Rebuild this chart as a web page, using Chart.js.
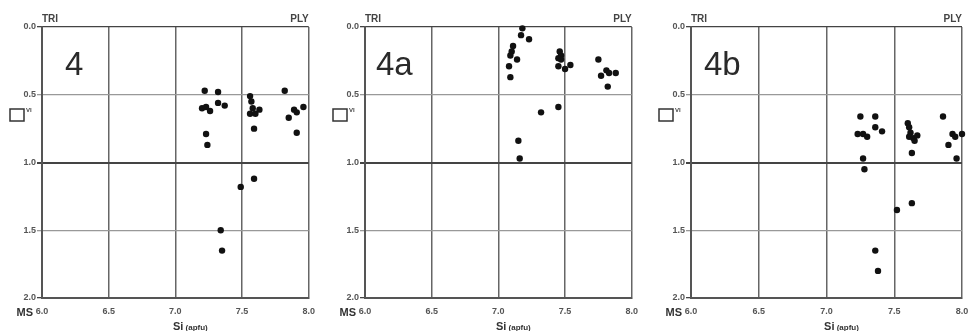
<!DOCTYPE html>
<html>
<head>
<meta charset="utf-8">
<script src="https://cdn.jsdelivr.net/npm/chart.js@4"></script>
<style>
  body { margin: 0; background: #fff; width: 969px; height: 331px; overflow: hidden; position: relative; }
  .panel { position: absolute; top: 0; }
</style>
</head>
<body>
<div class="panel" style="left:0px"><canvas id="c4" width="323" height="331"></canvas></div>
<div class="panel" style="left:323px"><canvas id="c4a" width="323" height="331"></canvas></div>
<div class="panel" style="left:648px"><canvas id="c4b" width="330" height="331"></canvas></div>
<script>
// Si (apfu) vs vacancy in octahedral site
const panelLabels = ['4', '4a', '4b'];
const xTicks = [6.0, 6.5, 7.0, 7.5, 8.0];
const yTicks = [0.0, 0.5, 1.0, 1.5, 2.0];

const si4  = [7.22, 7.32, 7.20, 7.23, 7.26, 7.32, 7.37, 7.23, 7.24, 7.56, 7.57, 7.58, 7.56, 7.60, 7.63, 7.59, 7.82, 7.85, 7.89, 7.91, 7.96, 7.91, 7.59, 7.49, 7.34, 7.35];
const vac4 = [0.47, 0.48, 0.60, 0.59, 0.62, 0.56, 0.58, 0.79, 0.87, 0.51, 0.55, 0.60, 0.64, 0.64, 0.61, 0.75, 0.47, 0.67, 0.61, 0.63, 0.59, 0.78, 1.12, 1.18, 1.50, 1.65];

const si4a  = [7.18, 7.17, 7.23, 7.11, 7.10, 7.09, 7.08, 7.14, 7.09, 7.46, 7.47, 7.45, 7.47, 7.45, 7.50, 7.54, 7.75, 7.77, 7.81, 7.83, 7.88, 7.82, 7.32, 7.45, 7.15, 7.16];
const vac4a = [0.01, 0.06, 0.09, 0.14, 0.18, 0.21, 0.29, 0.24, 0.37, 0.18, 0.21, 0.23, 0.24, 0.29, 0.31, 0.28, 0.24, 0.36, 0.32, 0.34, 0.34, 0.44, 0.63, 0.59, 0.84, 0.97];

const si4b  = [7.25, 7.36, 7.36, 7.41, 7.23, 7.27, 7.30, 7.27, 7.28, 7.60, 7.61, 7.62, 7.61, 7.64, 7.65, 7.67, 7.63, 7.86, 7.90, 7.93, 7.95, 8.00, 7.96, 7.63, 7.52, 7.36, 7.38];
const vac4b = [0.66, 0.66, 0.74, 0.77, 0.79, 0.79, 0.81, 0.97, 1.05, 0.71, 0.74, 0.78, 0.81, 0.82, 0.84, 0.80, 0.93, 0.66, 0.87, 0.79, 0.81, 0.79, 0.97, 1.30, 1.35, 1.65, 1.80];

const FONT = "'Liberation Sans', Arial, sans-serif";

// extra labels drawn around the plot area
const decorations = {
  id: 'decorations',
  afterDraw(chart, args, opts) {
    const ctx = chart.ctx;
    const a = chart.chartArea;
    ctx.save();
    ctx.fillStyle = '#444';
    ctx.font = 'bold 10px ' + FONT;
    ctx.textBaseline = 'alphabetic';
    ctx.textAlign = 'left';
    ctx.fillText('TRI', a.left, 22);
    ctx.textAlign = 'right';
    ctx.fillText('PLY', a.right, 22);

    // big panel label
    ctx.fillStyle = '#2a2a2a';
    ctx.font = '33px ' + FONT;
    ctx.textAlign = 'left';
    ctx.fillText(opts.label, a.left + opts.labelDx, 75);

    // vacancy symbol
    ctx.strokeStyle = '#333';
    ctx.lineWidth = 1.5;
    ctx.strokeRect(a.left - 32, 109, 14, 12);
    ctx.fillStyle = '#444';
    ctx.font = 'bold 6px ' + FONT;
    ctx.fillText('VI', a.left - 16, 112);

    // MS and x axis title
    ctx.fillStyle = '#333';
    ctx.font = 'bold 11px ' + FONT;
    ctx.textAlign = 'right';
    ctx.fillText('MS', a.left - 9, 316);
    const cx = (a.left + a.right) / 2 + 15;
    ctx.textAlign = 'left';
    ctx.font = 'bold 11px ' + FONT;
    const w1 = ctx.measureText('Si').width;
    ctx.font = 'bold 8px ' + FONT;
    const w2 = ctx.measureText(' (apfu)').width;
    let x0 = cx - (w1 + w2) / 2;
    ctx.font = 'bold 11px ' + FONT;
    ctx.fillText('Si', x0, 330);
    ctx.font = 'bold 8px ' + FONT;
    ctx.fillText(' (apfu)', x0 + w1, 330);
    ctx.restore();
  }
};

function makePanel(id, label, labelDx, si, vac, axisWidth, padRight) {
  const points = si.map((x, i) => ({ x: x, y: vac[i] }));
  new Chart(document.getElementById(id), {
    type: 'scatter',
    data: {
      datasets: [{
        data: points,
        pointRadius: 3.2,
        pointHoverRadius: 3.2,
        pointBackgroundColor: '#111',
        pointBorderWidth: 0,
        clip: false
      }]
    },
    options: {
      responsive: false,
      animation: false,
      devicePixelRatio: 1,
      layout: { padding: { top: 27, right: padRight, left: 0, bottom: 0 } },
      plugins: {
        legend: { display: false },
        tooltip: { enabled: false },
        decorations: { label: label, labelDx: labelDx }
      },
      scales: {
        x: {
          type: 'linear',
          min: xTicks[0],
          max: xTicks[xTicks.length - 1],
          afterBuildTicks: s => { s.ticks = xTicks.map(v => ({ value: v })); },
          afterFit: s => { s.height = 33; },
          ticks: {
            padding: 8,
            color: '#555',
            font: { family: FONT, size: 9, weight: 'bold' },
            maxRotation: 0,
            callback: v => Number(v).toFixed(1)
          },
          grid: { color: '#666', lineWidth: 1.5, drawTicks: false },
          border: { color: '#555', width: 2 }
        },
        y: {
          type: 'linear',
          reverse: true,
          min: yTicks[0],
          max: yTicks[yTicks.length - 1],
          afterBuildTicks: s => { s.ticks = yTicks.map(v => ({ value: v })); },
          afterFit: s => { s.width = axisWidth; },
          ticks: {
            padding: 1,
            color: '#555',
            font: { family: FONT, size: 9, weight: 'bold' },
            callback: v => Number(v).toFixed(1)
          },
          grid: {
            color: c => (c.tick && [0, 1, 2].includes(c.tick.value)) ? '#444' : '#999',
            lineWidth: c => (c.tick && c.tick.value === 1) ? 2 : 1.3,
            tickLength: 5
          },
          border: { color: '#555', width: 2 }
        }
      }
    },
    plugins: [decorations]
  });
}

makePanel('c4', panelLabels[0], 23, si4, vac4, 42, 9);
makePanel('c4a', panelLabels[1], 11, si4a, vac4a, 42, 8);
makePanel('c4b', panelLabels[2], 13, si4b, vac4b, 43, 16);
</script>
</body>
</html>
